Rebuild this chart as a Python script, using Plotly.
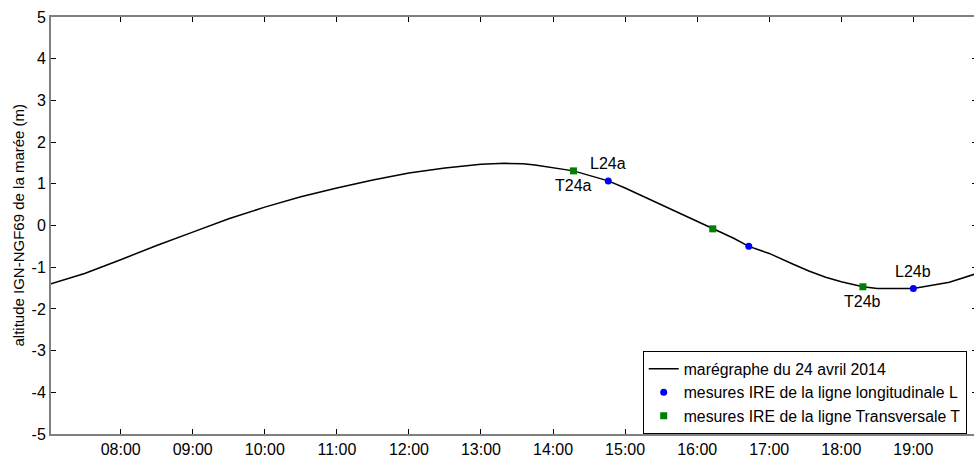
import plotly.graph_objects as go

# --- data ---
tide_times = ["07:02", "07:30", "08:00", "08:30", "09:00", "09:30", "10:00", "10:30",
              "11:00", "11:30", "12:00", "12:30", "13:00", "13:20", "13:35", "13:45",
              "14:17", "14:46", "15:00", "15:30", "16:00", "16:13", "16:30", "16:43",
              "17:00", "17:20", "17:33", "17:47", "18:00", "18:18", "18:30", "19:00",
              "19:30", "19:53"]
tide_values = [-1.40, -1.15, -0.82, -0.48, -0.16, 0.16, 0.44, 0.69,
               0.90, 1.09, 1.26, 1.38, 1.47, 1.49, 1.48, 1.45,
               1.31, 1.07, 0.90, 0.50, 0.10, -0.08, -0.30, -0.50,
               -0.67, -0.93, -1.09, -1.24, -1.35, -1.47, -1.51, -1.51,
               -1.36, -1.15]

L_times = ["14:46", "16:43", "19:00"]
L_values = [1.07, -0.50, -1.51]
L_labels = ["L24a", "", "L24b"]

T_times = ["14:17", "16:13", "18:18"]
T_values = [1.31, -0.08, -1.47]
T_labels = ["T24a", "", "T24b"]

y_ticks = [5, 4, 3, 2, 1, 0, -1, -2, -3, -4, -5]
y_ticktext = ["5", "4", "3", "2", "1", "0", "-1", "-2", "-3", "-4", "-5"]
x_range = ["07:02", "19:53"]

DAY = "2014-04-24 "
def d(t):
    return DAY + t + ":00"

FONT = "Arial, Liberation Sans, sans-serif"
fig = go.Figure()

fig.add_trace(go.Scatter(x=[d(t) for t in tide_times], y=tide_values, mode="lines",
                         line=dict(color="black", width=1.5),
                         name="marégraphe du 24 avril 2014"))
fig.add_trace(go.Scatter(x=[d(t) for t in L_times], y=L_values, mode="markers",
                         marker=dict(color="#0000ff", size=7, symbol="circle"),
                         name="mesures IRE de la ligne longitudinale L"))
fig.add_trace(go.Scatter(x=[d(t) for t in T_times], y=T_values, mode="markers",
                         marker=dict(color="#008000", size=7, symbol="square"),
                         name="mesures IRE de la ligne Transversale T"))
# invisible trace for right-hand ticks
fig.add_trace(go.Scatter(x=[d(x_range[0])], y=[0], yaxis="y2", mode="markers",
                         marker=dict(opacity=0), showlegend=False, hoverinfo="skip"))

for t, v, lab in zip(L_times, L_values, L_labels):
    if lab:
        fig.add_annotation(x=d(t), y=v, text=lab, showarrow=False, yshift=17,
                           font=dict(family=FONT, size=16, color="black"))
for t, v, lab in zip(T_times, T_values, T_labels):
    if lab:
        fig.add_annotation(x=d(t), y=v, text=lab, showarrow=False, yshift=-15,
                           font=dict(family=FONT, size=16, color="black"))

fig.add_annotation(xref="paper", yref="paper", x=0, y=0.5, xshift=-33,
                   xanchor="center", yanchor="middle",
                   text="altitude IGN-NGF69 de la marée (m)", textangle=-90,
                   showarrow=False, font=dict(family=FONT, size=15, color="black"))

axis_col = "#808080"
fig.update_layout(
    width=977, height=455,
    margin=dict(l=51, r=0, t=17, b=21, autoexpand=False),
    plot_bgcolor="white", paper_bgcolor="white",
    font=dict(family=FONT, size=16, color="black"),
    xaxis=dict(type="date", range=[d(x_range[0]), d(x_range[1])],
               tickformat="%H:%M", dtick=3600000, tick0=d("08:00"),
               ticks="inside", ticklen=5, tickcolor="black", tickwidth=1,
               showline=True, linecolor=axis_col, linewidth=2, mirror="ticks",
               showgrid=False, zeroline=False, tickfont=dict(size=16),
               automargin=False, ticklabelstandoff=0),
    yaxis=dict(range=[-5, 5], tickvals=y_ticks, ticktext=y_ticktext,
               ticks="inside", ticklen=5,
               tickcolor="black", showline=True, linecolor=axis_col, linewidth=2,
               showgrid=False, zeroline=False, tickfont=dict(size=16),
               automargin=False),
    yaxis2=dict(range=[-5, 5], tickvals=y_ticks, overlaying="y", side="right",
                ticks="inside", ticklen=5, tickcolor="black", showline=False,
                showticklabels=False, showgrid=False, zeroline=False,
                automargin=False),
    legend=dict(x=0.639, xanchor="left", y=0, yanchor="bottom",
                bordercolor="black", borderwidth=1, bgcolor="white",
                font=dict(size=15.8), tracegroupgap=0),
    showlegend=True,
)

fig.write_html("out.html", config={"displayModeBar": False},
               post_script="document.body.style.margin='0';document.body.style.overflow='hidden';document.documentElement.style.overflow='hidden';")
